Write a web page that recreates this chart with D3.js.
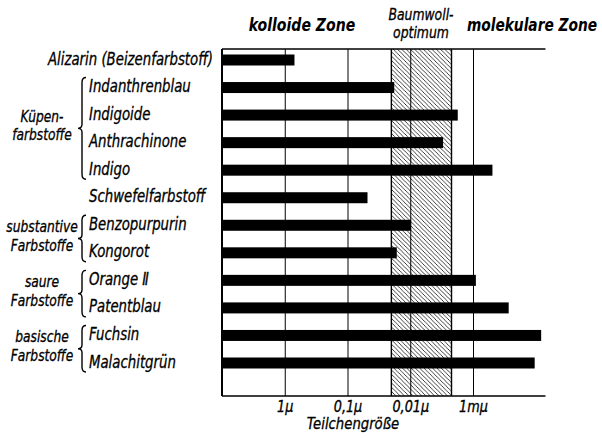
<!DOCTYPE html>
<html>
<head>
<meta charset="utf-8">
<script src="https://cdn.jsdelivr.net/npm/d3@7"></script>
<style>
  html, body { margin: 0; padding: 0; background: #fff; }
  svg { display: block; }
  text { font-family: "DejaVu Sans Condensed", "DejaVu Sans", sans-serif; font-stretch: condensed; font-style: italic; fill: #000; stroke: #000; stroke-width: 0.3px; }
</style>
</head>
<body>
<svg id="chart" width="602" height="438"></svg>
<script>
// Dye names (top to bottom) and particle size reached by each, in mμ (nm)
const dyes = [
  "Alizarin (Beizenfarbstoff)", "Indanthrenblau", "Indigoide", "Anthrachinone", "Indigo",
  "Schwefelfarbstoff", "Benzopurpurin", "Kongorot", "Orange Ⅱ", "Patentblau",
  "Fuchsin", "Malachitgrün"
];
const particleSize = [700, 18, 1.75, 3, 0.49, 48, 9.7, 16.4, 0.9, 0.27, 0.082, 0.104];

// Dye classes: label lines, first and last dye of each class
const groupLines = [["Küpen-", "farbstoffe"], ["substantive", "Farbstoffe"], ["saure", "Farbstoffe"], ["basische", "Farbstoffe"]];
const groupFirst = ["Indanthrenblau", "Benzopurpurin", "Orange Ⅱ", "Fuchsin"];
const groupLast  = ["Indigo", "Kongorot", "Patentblau", "Malachitgrün"];

// Size axis (mμ): ticks and their labels
const tickValues = [1000, 100, 10, 1];
const tickLabels = ["1μ", "0,1μ", "0,01μ", "1mμ"];
const axisRange = [10000, 0.07];          // left edge .. right end of frame lines
const cottonOptimum = [20, 2.2];           // Baumwolloptimum band, mμ

const svg = d3.select("#chart");
const yTop = 49, yBottom = 396;

const x = d3.scaleLog().domain([10000, 1]).range([222, 473]);
const y = d3.scalePoint().domain(dyes).range([60, 363]);
const barH = 11;

// narrow lettering: text squeezed horizontally around its anchor point
function label(parent, px, py, str, size, sx, anchor, weight) {
  return parent.append("text")
    .attr("transform", `translate(${px},${py}) scale(${sx},1)`)
    .attr("text-anchor", anchor || "start")
    .style("font-size", size + "px")
    .style("font-weight", weight || "normal")
    .style("stroke-width", weight === "bold" ? "0px" : null)
    .text(str);
}

// hatch pattern for the cotton optimum
const defs = svg.append("defs");
const pat = defs.append("pattern")
  .attr("id", "hatch").attr("patternUnits", "userSpaceOnUse")
  .attr("width", 4.3).attr("height", 4.3);
pat.append("path")
  .attr("d", "M-1,-1 L5.3,5.3 M-1,3.3 L1,5.3 M3.3,-1 L5.3,1")
  .attr("stroke", "#000").attr("stroke-width", 0.75);

// cotton optimum band
svg.append("rect")
  .attr("x", x(cottonOptimum[0])).attr("y", yTop)
  .attr("width", x(cottonOptimum[1]) - x(cottonOptimum[0]))
  .attr("height", yBottom - yTop)
  .attr("fill", "url(#hatch)");
svg.selectAll("line.band").data(cottonOptimum).join("line")
  .attr("class", "band")
  .attr("x1", d => x(d)).attr("x2", d => x(d))
  .attr("y1", yTop).attr("y2", yBottom)
  .attr("stroke", "#000").attr("stroke-width", 1.4);

// vertical grid lines at the decades
const grid = svg.append("g").attr("transform", `translate(0,${yBottom})`)
  .call(d3.axisBottom(x).tickValues(tickValues).tickFormat("").tickSize(-(yBottom - yTop)));
grid.select(".domain").remove();
grid.selectAll(".tick line").attr("stroke", "#000").attr("stroke-width", 1);

// frame: left edge, top and bottom lines
const xEnd = x(axisRange[1]);
svg.append("line").attr("x1", x(axisRange[0])).attr("x2", xEnd).attr("y1", yTop).attr("y2", yTop)
  .attr("stroke", "#000").attr("stroke-width", 1.6);
svg.append("line").attr("x1", x(axisRange[0])).attr("x2", xEnd).attr("y1", yBottom).attr("y2", yBottom)
  .attr("stroke", "#000").attr("stroke-width", 1.6);
svg.append("line").attr("x1", x(axisRange[0])).attr("x2", x(axisRange[0])).attr("y1", yTop).attr("y2", yBottom)
  .attr("stroke", "#000").attr("stroke-width", 2);

// bars
svg.selectAll("rect.bar").data(dyes).join("rect")
  .attr("class", "bar")
  .attr("x", x(axisRange[0]))
  .attr("y", d => y(d) - barH / 2)
  .attr("width", (d, i) => x(particleSize[i]) - x(axisRange[0]))
  .attr("height", barH)
  .attr("fill", "#000");

// tick labels
const ax = svg.append("g").attr("transform", `translate(0,${yBottom})`)
  .call(d3.axisBottom(x).tickValues(tickValues).tickFormat((d, i) => tickLabels[i]).tickSize(0).tickPadding(5));
ax.attr("font-family", null).attr("font-size", null);
ax.select(".domain").remove();
ax.selectAll(".tick text").attr("fill", null).style("font-size", "15px").attr("transform", "scale(0.95,1)");

label(svg, 353, 429, "Teilchengröße", 16, 0.92, "middle");

// dye labels
dyes.forEach((d, i) => {
  if (i === 0) label(svg, 213, y(d) + 4.5, d, 17, 0.87, "end");
  else label(svg, 89, y(d) + 4.5, d, 17, 0.87, "start");
});

// class labels with curly braces
function brace(xb, y0, y1) {
  const m = (y0 + y1) / 2;
  return `M${xb + 5},${y0} Q${xb + 1},${y0} ${xb + 1},${y0 + 5} L${xb + 1},${m - 4} Q${xb + 1},${m} ${xb - 3},${m}` +
         ` Q${xb + 1},${m} ${xb + 1},${m + 4} L${xb + 1},${y1 - 5} Q${xb + 1},${y1} ${xb + 5},${y1}`;
}
groupLines.forEach((lines, g) => {
  const y0 = y(groupFirst[g]) - 10, y1 = y(groupLast[g]) + 9;
  const mid = (y(groupFirst[g]) + y(groupLast[g])) / 2;
  svg.append("path").attr("d", brace(81, y0, y1))
    .attr("fill", "none").attr("stroke", "#000").attr("stroke-width", 1.4);
  label(svg, 42, mid - 7, lines[0], 15.5, 0.88, "middle");
  label(svg, 42, mid + 11.5, lines[1], 15.5, 0.88, "middle");
});

// zone headings
label(svg, 302, 31, "kolloide Zone", 17, 0.92, "middle", "bold");
label(svg, 532, 31, "molekulare Zone", 17, 0.9, "middle", "bold");
label(svg, 421, 20, "Baumwoll-", 15, 0.92, "middle");
label(svg, 421, 38, "optimum", 15, 0.92, "middle");
</script>
</body>
</html>
